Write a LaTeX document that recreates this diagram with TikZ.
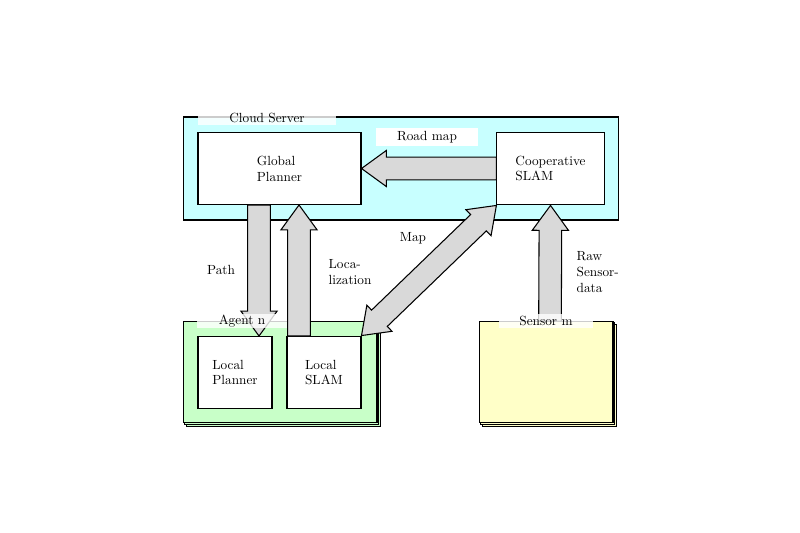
\documentclass[tikz,border=0pt]{standalone}
\usepackage{tikz}
\usetikzlibrary{positioning}
\usetikzlibrary{calc,shadows}

\definecolor{CloudCyan}{RGB}{200,255,255}
\definecolor{AgentGreen}{RGB}{200,255,200}
\definecolor{SensorYellow}{RGB}{255,255,200}

\tikzset{
	box/.style={draw, thick, fill=white, align=left, inner sep=0pt},
	group/.style={draw, thick, inner sep=0pt},
	stack/.style={group, double copy shadow={shadow xshift=0.05cm, shadow yshift=-0.05cm}},
	title/.style={fill=white, fill opacity=0.8, text opacity=1, inner sep=0pt, minimum height=0.37cm},
	fat/.style={draw, thick, fill=gray!30, line join=miter},
}

% single and double fat arrows between two named points
\newcommand{\fatarrow}[2]{
	\path ($(#2)!0.66cm!(#1)$) coordinate (h);
	\draw[fat] ($(#1)!0.3cm!90:(#2)$) -- ($(h)!0.3cm!90:(#2)$) -- ($(h)!0.48cm!90:(#2)$) -- (#2)
		-- ($(h)!0.48cm!-90:(#2)$) -- ($(h)!0.3cm!-90:(#2)$) -- ($(#1)!0.3cm!-90:(#2)$) -- cycle;
}
\newcommand{\fatdarrow}[2]{
	\path ($(#2)!0.66cm!(#1)$) coordinate (h);
	\path ($(#1)!0.66cm!(#2)$) coordinate (t);
	\draw[fat] (#1) -- ($(t)!0.48cm!-90:(#1)$) -- ($(t)!0.3cm!-90:(#1)$) -- ($(h)!0.3cm!90:(#2)$) -- ($(h)!0.48cm!90:(#2)$) -- (#2)
		-- ($(h)!0.48cm!-90:(#2)$) -- ($(h)!0.3cm!-90:(#2)$) -- ($(t)!0.3cm!90:(#1)$) -- ($(t)!0.48cm!90:(#1)$) -- cycle;
}

\begin{document}
\begin{tikzpicture}[x=0.0265cm, y=-0.0265cm]
	\useasboundingbox (0,0) rectangle (800,533);

	% ---------------------
	% Cloud server
	\node[group, fill=CloudCyan, minimum width=11.55cm, minimum height=2.73cm] (Cloud) at (401,168.5) {};
	\node[box, minimum width=4.32cm, minimum height=1.93cm] (GlobalPlanner) at (279.5,168.5) {Global\\Planner};
	\node[box, minimum width=2.84cm, minimum height=1.93cm] (CoopSLAM) at (550.5,168.5) {Cooperative\\SLAM};

	% ---------------------
	% Agent and sensor
	\node[stack, fill=AgentGreen, minimum width=5.14cm, minimum height=2.70cm] (Agent) at (280,372) {};
	\node[box, minimum width=1.96cm, minimum height=1.93cm] (LocalPlanner) at (235,372.5) {Local\\Planner};
	\node[box, minimum width=1.96cm, minimum height=1.93cm] (LocalSLAM) at (324,372.5) {Local\\SLAM};
	\node[stack, fill=SensorYellow, minimum width=3.55cm, minimum height=2.70cm] (Sensor) at (546,372) {};

	% ---------------------
	% Arrow end points
	\coordinate (RoadFrom) at (CoopSLAM.west);
	\coordinate (RoadTo) at (GlobalPlanner.east);
	\coordinate (PathFrom) at (259,205);
	\coordinate (PathTo) at (259,336);
	\coordinate (LocFrom) at (299,336);
	\coordinate (LocTo) at (299,205);
	\coordinate (RawFrom) at (550,321);
	\coordinate (RawTo) at (CoopSLAM.south);

	\fatarrow{RoadFrom}{RoadTo}
	\fatarrow{PathFrom}{PathTo}
	\fatarrow{LocFrom}{LocTo}
	\fatarrow{RawFrom}{RawTo}
	\fatdarrow{CoopSLAM.south west}{LocalSLAM.north east}

	% ---------------------
	% Titles and labels
	\node[title, minimum width=3.68cm] (CloudTitle) at (267,118) {Cloud Server};
	\node[title, minimum width=2.36cm] (AgentTitle) at (242,321) {Agent n};
	\node[title, minimum width=2.49cm] (SensorTitle) at (546,321) {Sensor m};
	\node[fill=white, inner sep=0pt, minimum width=2.68cm, minimum height=0.48cm] (RoadLabel) at (427,137) {Road map};

	\node (PathLabel) at (221,270) {Path};
	\node[align=left, anchor=west] (LocLabel) at (324,272) {Loca-\\lization};
	\node (MapLabel) at (413,238) {Map};
	\node[align=left, anchor=west] (RawLabel) at (572,272) {Raw\\Sensor-\\data};
\end{tikzpicture}
\end{document}
